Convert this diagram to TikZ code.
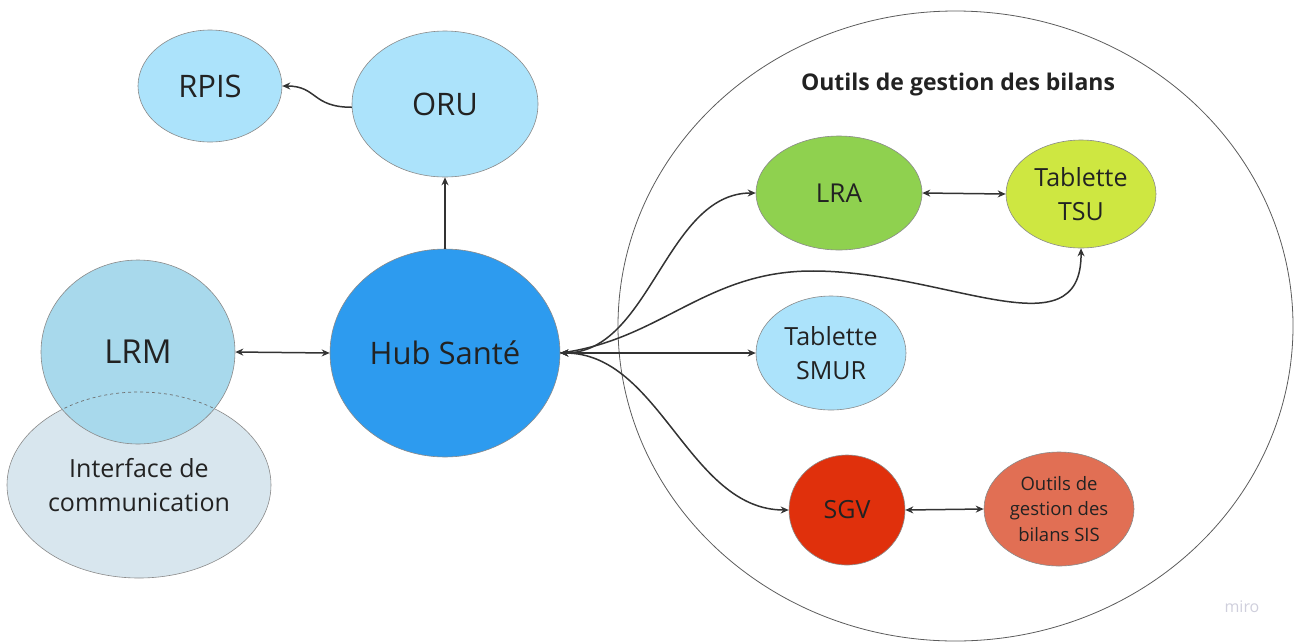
\documentclass[tikz,border=0pt]{standalone}
\usepackage{fontspec}
\setmainfont{Open Sans}
\usetikzlibrary{shapes.geometric,arrows.meta}
\definecolor{txt}{HTML}{222222}
\definecolor{edge}{HTML}{8A8A8A}
\definecolor{lnk}{HTML}{333333}
\definecolor{pale}{HTML}{ACE3FB}
\definecolor{lrmc}{HTML}{A8D9EC}
\definecolor{ifc}{HTML}{D8E6EE}
\definecolor{hubc}{HTML}{2D9BEF}
\definecolor{lrac}{HTML}{8FD14F}
\definecolor{tsuc}{HTML}{CEE741}
\definecolor{sgvc}{HTML}{E0300C}
\definecolor{sisc}{HTML}{E16F54}
\definecolor{wm}{HTML}{CFCFDC}
\tikzset{
  bubble/.style={ellipse, draw=edge, line width=0.6pt, inner sep=0pt, text=txt, align=center},
  big/.style={font=\fontsize{31}{36}\selectfont},
  mid/.style={font=\fontsize{25}{34}\selectfont},
  small/.style={font=\fontsize{18.5}{25.5}\selectfont},
  arr/.style={draw=lnk, line width=1.5pt, -{Stealth[length=8pt,width=7pt]}},
  darr/.style={draw=lnk, line width=1.5pt, {Stealth[length=8pt,width=7pt]}-{Stealth[length=8pt,width=7pt]}},
}
\begin{document}
\begin{tikzpicture}[x=1pt,y=-1pt]
\useasboundingbox (0,0) rectangle (1294,641);
% big group circle
\node[ellipse, draw=lnk!80, line width=0.8pt, minimum width=675pt, minimum height=630pt, inner sep=0pt] (grp) at (955.5,326) {};
\node[font=\bfseries\fontsize{23}{28}\selectfont, text=txt] (title) at (958,85) {Outils de gestion des bilans};
% left side
\node[bubble, fill=ifc, mid, minimum width=264pt, minimum height=186pt] (iface) at (139,485) {Interface de\\communication};
\node[bubble, fill=lrmc, font=\fontsize{33}{38}\selectfont, minimum width=194pt, minimum height=184pt] (lrm) at (138,352) {LRM};
\begin{scope}
  \clip (138,352) ellipse [x radius=97pt, y radius=92pt];
  \draw[edge!80!black, dashed, line width=0.7pt] (139,485) ellipse [x radius=132pt, y radius=93pt];
\end{scope}
% top
\node[bubble, fill=pale, big, minimum width=144pt, minimum height=112pt] (rpis) at (210,86) {RPIS};
\node[bubble, fill=pale, big, minimum width=186pt, minimum height=146pt] (oru) at (445,104) {ORU};
\node[bubble, fill=hubc, big, minimum width=230pt, minimum height=208pt] (hub) at (445,353) {Hub Santé};
% right group
\node[bubble, fill=lrac, font=\fontsize{26}{34}\selectfont, minimum width=166pt, minimum height=114pt] (lra) at (839,193) {LRA};
\node[bubble, fill=tsuc, mid, minimum width=150pt, minimum height=108pt] (tsu) at (1081,194) {Tablette\\TSU};
\node[bubble, fill=pale, mid, minimum width=150pt, minimum height=114pt] (smur) at (831,353) {Tablette\\SMUR};
\node[bubble, fill=sgvc, mid, minimum width=116pt, minimum height=110pt] (sgv) at (847,510) {SGV};
\node[bubble, fill=sisc, small, minimum width=150pt, minimum height=114pt] (sis) at (1059,509) {Outils de\\gestion des\\bilans SIS};
% connectors
\draw[arr] (hub.north) -- (oru.south);
\draw[arr] (oru.182) .. controls +(-40,0) and +(35,0) .. (rpis.east);
\draw[darr] (lrm.east) -- (hub.west);
\draw[darr] (hub.east) -- (smur.west);
\draw[darr] (hub.east) .. controls +(90,0) and +(-90,0) .. (lra.west);
\draw[darr] (hub.east) .. controls +(100,0) and +(-100,0) .. (sgv.west);
\draw[arr] (hub.east) .. controls (660,340) and (705,272) .. (810,271) .. controls (945,270) and (1082,355) .. (tsu.south);
\draw[darr] (lra.east) -- (tsu.west);
\draw[darr] (sgv.east) -- (sis.west);
% watermark
\node[font=\fontsize{16}{18}\selectfont, text=wm] (miro) at (1242,607) {miro};
\end{tikzpicture}
\end{document}
